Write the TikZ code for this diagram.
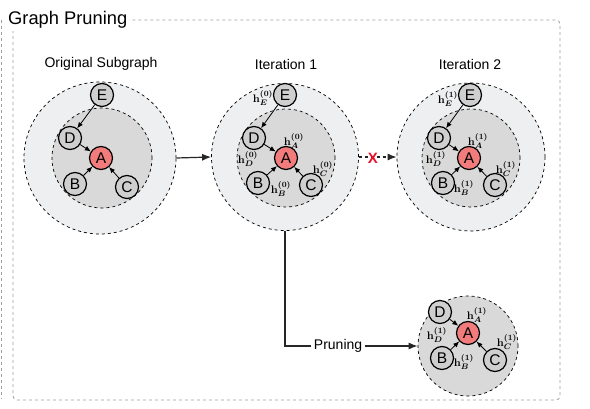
\documentclass[tikz,border=0pt]{standalone}
\usepackage{fontspec}
\setmainfont{Liberation Sans}
\setsansfont{Liberation Sans}
\usetikzlibrary{arrows.meta}
\definecolor{outerfill}{HTML}{EDEFF0}
\definecolor{innerfill}{HTML}{D9D9D9}
\definecolor{nodefill}{HTML}{CFCFCF}
\definecolor{afill}{HTML}{F27C7C}
\definecolor{framegray}{HTML}{A0A0A0}
\definecolor{xred}{HTML}{E8102A}
\tikzset{
  gnode/.style={circle,draw=black,line width=1.2pt,fill=nodefill,minimum size=23pt,inner sep=0pt,font=\fontsize{15.5}{15.5}\selectfont},
  anode/.style={gnode,fill=afill},
  gedge/.style={line width=0.8pt,-{Latex[length=6pt,width=5pt]}},
  outerc/.style={circle,draw=black,dashed,line width=0.7pt,fill=outerfill,inner sep=0pt},
  innerc/.style={circle,draw=black,dashed,line width=0.7pt,fill=innerfill,inner sep=0pt},
  hlab/.style={font=\fontsize{11}{11}\selectfont\boldmath,inner sep=0pt},
  ttl/.style={font=\fontsize{14}{14}\selectfont},
  bigarrow/.style={line width=1.2pt,draw=black!85,-{Latex[length=9pt,width=7pt]}},
}
\begin{document}
\begin{tikzpicture}[x=1pt,y=-1pt]
\useasboundingbox (0,0) rectangle (590,409);
% frames
\draw[framegray,dashed,line width=0.8pt,rounded corners=4pt] (13,20) rectangle (560,400);
\draw[framegray,dashed,line width=0.8pt] (1,20) -- (1,399);
\node[fill=white,anchor=west,inner sep=2pt,font=\fontsize{18.3}{18.3}\selectfont] (title) at (6,20) {Graph Pruning};

% titles
\node[ttl] (t0) at (101,64) {Original Subgraph};
\node[ttl] (t1) at (286,64) {Iteration 1};
\node[ttl] (t2) at (470,64) {Iteration 2};

% ---------- Original subgraph
\node[outerc,minimum size=152pt] (o0) at (100,158) {};
\node[innerc,minimum size=100pt] (i0) at (102,158) {};
\node[gnode] (E0) at (102,95) {E};
\node[gnode] (D0) at (70,138) {D};
\node[anode] (A0) at (101,158) {A};
\node[gnode] (B0) at (75,184) {B};
\node[gnode] (C0) at (127,187) {C};
\draw[gedge] (E0) -- (D0);
\draw[gedge] (D0) -- (A0);
\draw[gedge] (B0) -- (A0);
\draw[gedge] (C0) -- (A0);

% ---------- Iteration 1
\node[outerc,minimum size=147pt] (o1) at (285,157) {};
\node[innerc,minimum size=98pt] (i1) at (286,158) {};
\node[gnode] (E1) at (285,95) {E};
\node[gnode] (D1) at (254,138) {D};
\node[anode] (A1) at (286,158) {A};
\node[gnode] (B1) at (258,183) {B};
\node[gnode] (C1) at (311,185) {C};
\draw[gedge] (E1) -- (D1);
\draw[gedge] (D1) -- (A1);
\draw[gedge] (B1) -- (A1);
\draw[gedge] (C1) -- (A1);
\node[hlab] (hE1) at (263,98) {$\mathbf{h}^{(0)}_{E}$};
\node[hlab] (hA1) at (294,141) {$\mathbf{h}^{(0)}_{A}$};
\node[hlab] (hD1) at (248,159) {$\mathbf{h}^{(0)}_{D}$};
\node[hlab] (hC1) at (323,169) {$\mathbf{h}^{(0)}_{C}$};
\node[hlab] (hB1) at (281,189) {$\mathbf{h}^{(0)}_{B}$};

% ---------- Iteration 2
\node[outerc,minimum size=148pt] (o2) at (471,157) {};
\node[innerc,minimum size=98pt] (i2) at (471,158) {};
\node[gnode] (E2) at (470,95) {E};
\node[gnode] (D2) at (439,138) {D};
\node[anode] (A2) at (469,158) {A};
\node[gnode] (B2) at (443,183) {B};
\node[gnode] (C2) at (495,185) {C};
\draw[gedge] (E2) -- (D2);
\draw[gedge] (D2) -- (A2);
\draw[gedge] (B2) -- (A2);
\draw[gedge] (C2) -- (A2);
\node[hlab] (hE2) at (448,99) {$\mathbf{h}^{(1)}_{E}$};
\node[hlab] (hA2) at (478,141) {$\mathbf{h}^{(1)}_{A}$};
\node[hlab] (hD2) at (436,159) {$\mathbf{h}^{(1)}_{D}$};
\node[hlab] (hC2) at (506,169) {$\mathbf{h}^{(1)}_{C}$};
\node[hlab] (hB2) at (464,188) {$\mathbf{h}^{(1)}_{B}$};

% ---------- Pruned
\node[innerc,minimum size=100pt] (p3) at (468,346) {};
\node[gnode] (D3) at (440,312) {D};
\node[anode] (A3) at (468,333) {A};
\node[gnode] (B3) at (442,358) {B};
\node[gnode] (C3) at (495,360) {C};
\draw[gedge] (D3) -- (A3);
\draw[gedge] (B3) -- (A3);
\draw[gedge] (C3) -- (A3);
\node[hlab] (hA3) at (477,315) {$\mathbf{h}^{(1)}_{A}$};
\node[hlab] (hD3) at (437,335) {$\mathbf{h}^{(1)}_{D}$};
\node[hlab] (hC3) at (507,342) {$\mathbf{h}^{(1)}_{C}$};
\node[hlab] (hB3) at (464,362) {$\mathbf{h}^{(1)}_{B}$};

% ---------- connectors
\draw[bigarrow] (o0.east) -- (o1.west);
\draw[line width=1.2pt,draw=black!85,dashed,-{Latex[length=9pt,width=7pt]}] (o1.east) -- (o2.west);
\node[text=xred,font=\bfseries\fontsize{15}{15}\selectfont,inner sep=0pt] (X) at (373,158) {X};
\coordinate (bend) at (o1.south |- p3.west);
\draw[bigarrow] (o1.south) -- (bend) -- (p3.west)
  node[pos=0.4,fill=white,inner sep=3pt,ttl] (pr) {Pruning};
\end{tikzpicture}
\end{document}
